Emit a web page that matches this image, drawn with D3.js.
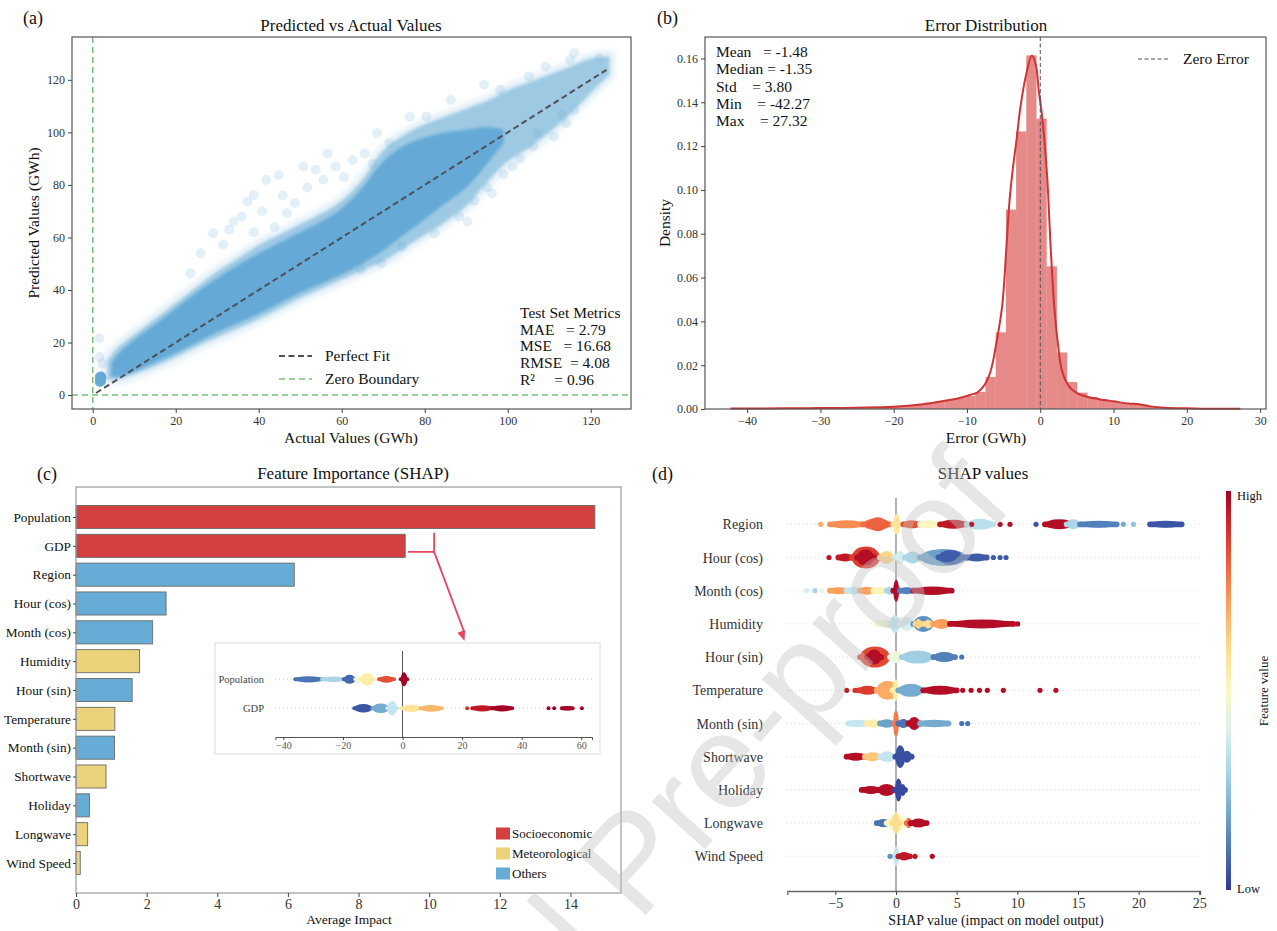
<!DOCTYPE html>
<html>
<head>
<meta charset="utf-8">
<script src="https://cdn.jsdelivr.net/npm/d3@7"></script>
<style>
  body { margin: 0; background: #fff; }
  svg { display: block; }
</style>
</head>
<body>
<svg id="fig" width="1277" height="931"></svg>
<script>
"use strict";

var SERIF = "Liberation Serif, Times New Roman, serif";

// ---- (a) predicted vs actual ----
// outline of the point cloud: [actual, low, high]
var cloudX  = [3.5, 6, 10, 15, 20, 25, 30, 35, 40, 45, 50, 55, 60, 65, 70, 75, 80, 85, 90, 95, 100, 105, 110, 115, 120, 124.5];
var cloudLo = [6, 6, 8, 11, 14.5, 18.5, 22, 25.5, 29, 33, 37, 40.5, 44, 47.5, 51, 56, 61, 66, 72, 81, 89, 94, 100, 107, 115, 122];
var cloudHi = [13, 18, 23, 29, 35, 41, 47, 52, 57, 61, 65, 69, 74, 82, 93, 99, 103, 106, 109, 112, 116, 119, 122, 125, 128, 129];
var denseX  = [4.5, 6, 10, 15, 20, 25, 30, 35, 40, 45, 50, 55, 60, 65, 70, 75, 80, 85, 90, 95, 99];
var denseLo = [7, 7, 9, 12.5, 16, 20, 24, 27.5, 31, 35, 39, 42.5, 46, 50, 55, 61, 67, 73, 79, 88, 96];
var denseHi = [12, 15.5, 21, 27, 33, 39, 44.5, 49.5, 54, 58, 62, 66, 71, 79, 89, 95, 98, 100, 101, 102, 101];
var lowCluster = [[1.7, 5.0], [2.0, 5.4], [1.8, 6.1], [2.1, 6.6], [1.7, 6.9], [2.0, 7.1]];
var outliers = [
  [1.6, 21.6], [1.6, 14.6], [2.2, 12], [23.5, 46.4], [26, 54], [29, 61.6], [32.9, 62.9],
  [31.4, 57.2], [35.9, 68], [37.3, 73.7], [38.8, 76.2], [41.8, 81.9], [44.8, 83.8], [46.8, 69.2],
  [48.7, 73], [50.7, 87], [53.7, 85.8], [56.6, 92], [58.6, 87], [62.6, 89.5], [68.5, 99.7],
  [71.5, 95.9], [76.4, 106], [80.4, 106], [86.3, 112.4], [94.3, 118.1], [98.2, 116.2],
  [105.1, 121.3], [109.1, 125.1], [115, 127.6], [116, 130.2], [122, 128.3], [88.3, 68],
  [90.3, 66.1], [96.2, 76.8], [101.2, 87], [106.1, 94.6], [107.1, 99.7], [111.1, 98.4],
  [114.1, 103.5], [113.1, 106.7], [116, 108.6], [78.4, 66.7], [82.4, 61.6], [74.5, 56.5],
  [69.5, 50.2], [64.6, 47.6], [20, 29], [15, 24], [12, 20],
  [33.9, 66], [40.8, 70], [43.8, 64], [38.8, 62], [45.8, 76], [51.7, 79], [55.6, 82],
  [60.5, 83], [65.5, 92], [67.5, 88], [92, 74], [95, 79], [99, 84], [103, 90]
];
var fitRange = [0.8, 123.8];
var metricLines = ["Test Set Metrics", "MAE   = 2.79", "MSE   = 16.68", "RMSE  = 4.08", "R\u00b2     = 0.96"];

// ---- (b) error distribution ----
var errMin = -42.27, errMax = 27.32;
var binDensity = [
  0.0002, 0.0001, 0.0002, 0.0002, 0.0002, 0.0003, 0.0003, 0.0003, 0.0004, 0.0004,
  0.0004, 0.0005, 0.0006, 0.0007, 0.0009, 0.0011, 0.0014, 0.0018, 0.0023, 0.0029,
  0.0035, 0.0042, 0.0050, 0.0060, 0.0078, 0.0146, 0.035, 0.091, 0.1267, 0.1614,
  0.1325, 0.0651, 0.0258, 0.0123, 0.0075, 0.0055, 0.0045, 0.0036, 0.0028, 0.0024,
  0.0020, 0.0012, 0.0007, 0.0005, 0.0003, 0.0002, 0.0002, 0.0001, 0.0001, 0.0001
];
var kdePoints = [
  [-42.3, 0.0002], [-35, 0.0003], [-30, 0.0004], [-25, 0.0006], [-20, 0.001], [-16, 0.0022],
  [-13, 0.0038], [-11, 0.005], [-9.5, 0.0065], [-8.6, 0.0075], [-7.6, 0.011], [-6.8, 0.017],
  [-6, 0.03], [-5.2, 0.047], [-4.6, 0.075], [-4.2, 0.095], [-3.8, 0.108], [-3.2, 0.124],
  [-2.7, 0.138], [-1.9, 0.153], [-1.15, 0.1614], [-0.6, 0.157], [-0.2, 0.145], [0.2, 0.135],
  [0.9, 0.108], [1.4, 0.075], [1.9, 0.047], [2.4, 0.03], [3, 0.017], [4, 0.01], [5, 0.0073],
  [6.5, 0.0055], [8, 0.0045], [10, 0.0035], [12, 0.0025], [13.5, 0.0022], [15, 0.0012],
  [17, 0.0006], [20, 0.0003], [24, 0.0001], [27.3, 0.0001]
];
var statLines = ["Mean   = -1.48", "Median = -1.35", "Std    = 3.80", "Min    = -42.27", "Max    = 27.32"];

// ---- (c) feature importance ----
var features = ["Population", "GDP", "Region", "Hour (cos)", "Month (cos)", "Humidity", "Hour (sin)",
  "Temperature", "Month (sin)", "Shortwave", "Holiday", "Longwave", "Wind Speed"];
var importance = [14.69, 9.32, 6.18, 2.55, 2.17, 1.80, 1.59, 1.10, 1.09, 0.85, 0.38, 0.33, 0.12];
var featureGroup = ["Socioeconomic", "Socioeconomic", "Others", "Others", "Others", "Meteorological",
  "Others", "Meteorological", "Others", "Meteorological", "Others", "Meteorological", "Meteorological"];
var groups = ["Socioeconomic", "Meteorological", "Others"];
var groupColors = ["#d43f3f", "#ebd37b", "#67acd6"];

// inset: SHAP of socioeconomic features. runs = [row, from, to, feature value, density]
var insetFeatures = ["Population", "GDP"];
var insetRuns = [
  [0, -36, -27, 0.1, 0.2], [0, -27, -19.2, 0.3, 0.15], [0, -19.7, -15.8, 0.08, 0.45],
  [0, -15.8, -14.1, 0.45, 0.3], [0, -14.1, -9.6, 0.55, 0.8], [0, -7.9, -2.9, 0.85, 0.25],
  [0, -0.6, 1.6, 1.0, 0.9],
  [1, -16.2, -10.1, 0.05, 0.4], [1, -10.1, -4.5, 0.2, 0.5], [1, -5.1, -1.8, 0.35, 0.95],
  [1, -0.2, 6, 0.58, 0.3], [1, 6, 13.2, 0.68, 0.25], [1, 23.4, 30.1, 0.95, 0.2],
  [1, 30.1, 36.8, 1.0, 0.2], [1, 53.5, 57.1, 1.0, 0.05]
];
var insetDots = [[1, 21.7, 0.9], [1, 49, 1.0], [1, 50.9, 1.0], [1, 60.2, 1.0]];
var insetTicks = [-40, -20, 0, 20, 40, 60];

// ---- (d) SHAP summary ----
var shapFeatures = ["Region", "Hour (cos)", "Month (cos)", "Humidity", "Hour (sin)", "Temperature",
  "Month (sin)", "Shortwave", "Holiday", "Longwave", "Wind Speed"];
var shapRuns = [
  [0, -5.44, -2.69, 0.75, 0.1], [0, -2.69, -0.49, 0.8, 0.3], [0, -2.2, -0.8, 0.82, 0.4],
  [0, -0.22, 0.33, 0.58, 0.75], [0, 0.6, 1.98, 0.85, 0.1], [0, 1.98, 3.35, 0.5, 0.1],
  [0, 3.63, 5.83, 0.95, 0.15], [0, 5.83, 8.03, 0.33, 0.25], [0, 12.28, 14.62, 0.97, 0.2],
  [0, 14.07, 15.17, 0.3, 0.2], [0, 15.17, 18.19, 0.12, 0.05], [0, 20.94, 23.55, 0.05, 0.05],
  [1, -4.75, -3.65, 0.95, 0.1], [1, -3.65, -1.32, 0.88, 0.8], [1, -3.2, -1.8, 0.97, 0.5],
  [1, -1.32, -0.22, 0.62, 0.35], [1, -0.08, 0.74, 0.38, 0.35], [1, 0.74, 1.98, 0.3, 0.3],
  [1, 1.98, 5.83, 0.18, 0.55], [1, 3.5, 5.5, 0.06, 0.45], [1, 5.83, 7.48, 0.06, 0.1],
  [2, -5.44, -4.07, 0.72, 0.05], [2, -4.07, -2.97, 0.35, 0.08], [2, -2.97, -1.87, 0.72, 0.1],
  [2, -1.87, -0.77, 0.52, 0.1], [2, -0.77, -0.22, 0.3, 0.1], [2, -0.22, 0.25, 0.98, 0.8],
  [2, 0.33, 1.43, 0.12, 0.05], [2, 1.43, 4.59, 0.97, 0.12],
  [3, -1.59, -0.22, 0.45, 0.1], [3, -0.5, 0.33, 0.35, 0.6], [3, 0.33, 1.43, 0.38, 0.4],
  [3, 1.43, 3.08, 0.15, 0.5], [3, 1.6, 2.1, 0.62, 0.2], [3, 2.4, 2.9, 0.6, 0.15],
  [3, 3.08, 4.45, 0.72, 0.2], [3, 4.45, 9.67, 0.97, 0.15],
  [4, -2.97, -0.49, 0.86, 0.75], [4, -2.4, -1.2, 0.97, 0.45], [4, -0.49, 0.47, 0.45, 0.3],
  [4, 0.47, 3.08, 0.28, 0.35], [4, 3.08, 4.87, 0.12, 0.2],
  [5, -3.11, -1.59, 0.88, 0.15], [5, -1.59, 0.19, 0.7, 0.65], [5, -0.3, 0.2, 0.55, 0.8],
  [5, 0.19, 2.25, 0.2, 0.35], [5, 2.25, 5.0, 0.97, 0.15],
  [6, -3.93, -2.41, 0.35, 0.08], [6, -2.41, -1.32, 0.55, 0.12], [6, -1.32, -0.22, 0.18, 0.12],
  [6, -0.14, 0.14, 0.78, 1.0], [6, 0.19, 1.02, 0.1, 0.15], [6, 1.02, 1.98, 0.97, 0.35],
  [6, 1.98, 4.32, 0.2, 0.08],
  [7, -4.07, -2.56, 0.97, 0.1], [7, -2.56, -1.32, 0.65, 0.15], [7, -1.32, -0.08, 0.35, 0.25],
  [7, -0.05, 0.75, 0.04, 0.85], [7, 0.5, 1.29, 0.04, 0.3],
  [8, -2.83, -1.3, 0.97, 0.1], [8, -1.5, -0.08, 0.97, 0.3], [8, -0.08, 0.5, 0.03, 0.85],
  [8, 0.4, 0.74, 0.03, 0.3],
  [9, -1.59, -0.49, 0.1, 0.1], [9, -0.77, 0.88, 0.5, 0.5], [9, -0.3, 0.3, 0.6, 0.8],
  [9, 0.88, 1.2, 0.8, 0.2], [9, 1.2, 2.53, 0.97, 0.15],
  [10, -0.14, 0.19, 0.35, 0.7], [10, 0.19, 1.15, 0.95, 0.12]
];
var shapDots = [
  [0, -6.21, 0.7], [0, 6.24, 0.95], [0, 8.58, 0.97], [0, 9.4, 0.97], [0, 11.54, 0.05],
  [0, 18.74, 0.2], [0, 19.57, 0.25],
  [1, -5.52, 0.95], [1, 8.03, 0.06], [1, 8.58, 0.06], [1, 9.07, 0.06],
  [2, -7.36, 0.38], [2, -6.68, 0.3], [2, -6.13, 0.45],
  [3, 10.03, 0.97], [4, 5.42, 0.1],
  [5, -4.07, 0.95], [5, -3.38, 0.9], [5, 5.5, 0.97], [5, 6.19, 0.97], [5, 6.88, 0.97],
  [5, 7.53, 0.97], [5, 8.85, 0.97], [5, 11.87, 0.97], [5, 13.18, 0.97],
  [6, 5.42, 0.1], [6, 5.91, 0.1],
  [10, -0.49, 0.15], [10, 1.57, 0.95], [10, 2.99, 0.97]
];

var svg = d3.select("#fig");
var defs = svg.append("defs");
defs.append("filter").attr("id", "soft")
  .append("feGaussianBlur").attr("stdDeviation", 1.8);
defs.append("filter").attr("id", "softer")
  .append("feGaussianBlur").attr("stdDeviation", 3);

function featureColor(v) {
  return d3.interpolateRdYlBu(1 - v);
}

// tick labels and tick lines in the matplotlib look
function styleAxis(g, size, keepDomain) {
  g.selectAll("text")
    .attr("font-family", SERIF)
    .attr("font-size", size)
    .attr("fill", "#333");
  g.selectAll(".tick line").attr("stroke", "#444");
  if (!keepDomain) {
    g.select(".domain").remove();
  }
}

function addText(x, y, str, size, anchor) {
  return svg.append("text")
    .attr("x", x)
    .attr("y", y)
    .attr("font-family", SERIF)
    .attr("font-size", size)
    .attr("text-anchor", anchor || "start")
    .attr("fill", "#111")
    .style("white-space", "pre")
    .text(str);
}

function addRotated(x, y, str, size) {
  svg.append("text")
    .attr("transform", "translate(" + x + "," + y + ") rotate(-90)")
    .attr("font-family", SERIF)
    .attr("font-size", size)
    .attr("text-anchor", "middle")
    .attr("fill", "#111")
    .text(str);
}

// beeswarm runs: a thin capsule plus an ellipse for the pile-up of points
function drawRuns(g, runs, xs, ys, hs, rowNames, thin) {
  var sel = g.selectAll(".run")
    .data(runs)
    .enter()
    .append("g")
    .attr("class", "run");
  sel.append("rect")
    .attr("x", function (d) { return xs(d[1]) - thin; })
    .attr("width", function (d) { return xs(d[2]) - xs(d[1]) + 2 * thin; })
    .attr("y", function (d) { return ys(rowNames[d[0]]) - thin; })
    .attr("height", 2 * thin)
    .attr("rx", thin)
    .attr("fill", function (d) { return featureColor(d[3]); });
  sel.append("ellipse")
    .attr("cx", function (d) { return (xs(d[1]) + xs(d[2])) / 2; })
    .attr("cy", function (d) { return ys(rowNames[d[0]]); })
    .attr("rx", function (d) { return Math.max((xs(d[2]) - xs(d[1])) / 2, thin); })
    .attr("ry", function (d) { return hs(d[4]); })
    .attr("fill", function (d) { return featureColor(d[3]); });
}

/* ================= (a) ================= */
var xA = d3.scaleLinear().domain([-5, 129.7]).range([72, 631]);
var yA = d3.scaleLinear().domain([-5.3, 136.3]).range([409, 37]);

defs.append("clipPath").attr("id", "clipA")
  .append("rect").attr("x", 72).attr("y", 37).attr("width", 559).attr("height", 372);

var gA = svg.append("g").attr("clip-path", "url(#clipA)");

var bandArea = d3.area()
  .x(function (d) { return xA(d[0]); })
  .y0(function (d) { return yA(d[1]); })
  .y1(function (d) { return yA(d[2]); })
  .curve(d3.curveCatmullRom);

var cloudRows = cloudX.map(function (x, i) { return [x, cloudLo[i], cloudHi[i]]; });
var denseRows = denseX.map(function (x, i) { return [x, denseLo[i], denseHi[i]]; });

// faint fringe of scattered points around the cloud
gA.append("path")
  .attr("d", bandArea(cloudRows))
  .attr("fill", "#6baed6")
  .attr("stroke", "#6baed6")
  .attr("stroke-width", 10)
  .attr("opacity", 0.22)
  .attr("filter", "url(#softer)");

gA.append("path")
  .attr("d", bandArea(cloudRows))
  .attr("fill", "#6baed6")
  .attr("opacity", 0.55)
  .attr("filter", "url(#soft)");

gA.append("path")
  .attr("d", bandArea(denseRows))
  .attr("fill", "#65aad6")
  .attr("opacity", 1)
  .attr("filter", "url(#soft)");

gA.selectAll(".outlier")
  .data(outliers)
  .enter()
  .append("circle")
  .attr("class", "outlier")
  .attr("cx", function (d) { return xA(d[0]); })
  .attr("cy", function (d) { return yA(d[1]); })
  .attr("r", 5)
  .attr("fill", "#6baed6")
  .attr("opacity", 0.18);

gA.selectAll(".low")
  .data(lowCluster)
  .enter()
  .append("circle")
  .attr("class", "low")
  .attr("cx", function (d) { return xA(d[0]); })
  .attr("cy", function (d) { return yA(d[1]); })
  .attr("r", 5)
  .attr("fill", "#65aad6")
  .attr("opacity", 0.9);

gA.append("line")
  .attr("x1", xA(fitRange[0])).attr("y1", yA(fitRange[0]))
  .attr("x2", xA(fitRange[1])).attr("y2", yA(fitRange[1]))
  .attr("stroke", "#4f4f5a")
  .attr("stroke-width", 2)
  .attr("stroke-dasharray", "6,3.5");

gA.append("line")
  .attr("x1", xA(0)).attr("x2", xA(0))
  .attr("y1", 37).attr("y2", 409)
  .attr("stroke", "#78c078").attr("stroke-width", 1.5).attr("stroke-dasharray", "6,4");
gA.append("line")
  .attr("x1", 72).attr("x2", 631)
  .attr("y1", yA(0)).attr("y2", yA(0))
  .attr("stroke", "#78c078").attr("stroke-width", 1.5).attr("stroke-dasharray", "6,4");

svg.append("rect")
  .attr("x", 72).attr("y", 37).attr("width", 559).attr("height", 372)
  .attr("fill", "none").attr("stroke", "#555").attr("stroke-width", 1.2);

styleAxis(svg.append("g").attr("transform", "translate(0,409)")
  .call(d3.axisBottom(xA).tickValues(d3.range(0, 121, 20)).tickSize(4)), 12);
styleAxis(svg.append("g").attr("transform", "translate(72,0)")
  .call(d3.axisLeft(yA).tickValues(d3.range(0, 121, 20)).tickSize(4)), 12);

addText(23, 24, "(a)", 18);
addText(351, 31, "Predicted vs Actual Values", 17, "middle");
addText(351, 443, "Actual Values (GWh)", 15.5, "middle");
addRotated(38.5, 223, "Predicted Values (GWh)", 15.5);

// legend (a)
var legendA = [["Perfect Fit", "#4f4f5a", 2, "6,3.5"], ["Zero Boundary", "#78c078", 1.5, "6,4"]];
legendA.forEach(function (d, i) {
  var y = 356 + i * 23;
  svg.append("line")
    .attr("x1", 279).attr("x2", 312).attr("y1", y).attr("y2", y)
    .attr("stroke", d[1]).attr("stroke-width", d[2]).attr("stroke-dasharray", d[3]);
  addText(325, y + 5, d[0], 15.5);
});

metricLines.forEach(function (line, i) {
  addText(520, 318 + i * 16.7, line, 15.5);
});

/* ================= (b) ================= */
var xB = d3.scaleLinear().domain([-45.75, 30.8]).range([705, 1266]);
var yB = d3.scaleLinear().domain([0, 0.1698]).range([409, 37]);
var binWidth = (errMax - errMin) / binDensity.length;

svg.append("g").selectAll("rect")
  .data(binDensity)
  .enter()
  .append("rect")
  .attr("x", function (d, i) { return xB(errMin + i * binWidth); })
  .attr("width", function (d, i) { return xB(errMin + (i + 1) * binWidth) - xB(errMin + i * binWidth); })
  .attr("y", function (d) { return yB(d); })
  .attr("height", function (d) { return yB(0) - yB(d); })
  .attr("fill", "#d33a3a")
  .attr("opacity", 0.6);

svg.append("path")
  .attr("d", d3.line()
    .x(function (d) { return xB(d[0]); })
    .y(function (d) { return yB(d[1]); })
    .curve(d3.curveCatmullRom)(kdePoints))
  .attr("fill", "none")
  .attr("stroke", "#cf3434")
  .attr("stroke-width", 2);

svg.append("line")
  .attr("x1", xB(0)).attr("x2", xB(0)).attr("y1", 37).attr("y2", 409)
  .attr("stroke", "#4f4f5a").attr("stroke-width", 1).attr("stroke-dasharray", "4,2.5");

svg.append("rect")
  .attr("x", 705).attr("y", 37).attr("width", 561).attr("height", 372)
  .attr("fill", "none").attr("stroke", "#555").attr("stroke-width", 1.2);

styleAxis(svg.append("g").attr("transform", "translate(0,409)")
  .call(d3.axisBottom(xB).tickValues(d3.range(-40, 31, 10)).tickSize(4)), 12);
styleAxis(svg.append("g").attr("transform", "translate(705,0)")
  .call(d3.axisLeft(yB).tickValues(d3.range(0, 0.161, 0.02)).tickFormat(d3.format(".2f")).tickSize(4)), 12);

addText(657, 24, "(b)", 18);
addText(986, 31, "Error Distribution", 17, "middle");
addText(986, 443, "Error (GWh)", 15.5, "middle");
addRotated(670, 223, "Density", 15.5);

statLines.forEach(function (line, i) {
  addText(716, 57 + i * 17.3, line, 15.5);
});

svg.append("line")
  .attr("x1", 1138).attr("x2", 1169).attr("y1", 59).attr("y2", 59)
  .attr("stroke", "#4f4f5a").attr("stroke-width", 1).attr("stroke-dasharray", "4,2.5");
addText(1183, 64, "Zero Error", 15.5);

/* ================= (c) ================= */
var xC = d3.scaleLinear().domain([0, 15.43]).range([76, 621]);
var yC = d3.scaleLinear().domain([-1.04, 13.04]).range([487, 893]);
var colorC = d3.scaleOrdinal().domain(groups).range(groupColors);
var barH = yC(0.4) - yC(-0.4);

svg.append("g").selectAll("rect")
  .data(importance)
  .enter()
  .append("rect")
  .attr("x", xC(0))
  .attr("y", function (d, i) { return yC(i) - barH / 2; })
  .attr("width", function (d) { return xC(d) - xC(0); })
  .attr("height", barH)
  .attr("fill", function (d, i) { return colorC(featureGroup[i]); })
  .attr("stroke", "#6a6a6a")
  .attr("stroke-width", 0.9);

svg.append("rect")
  .attr("x", 76).attr("y", 487).attr("width", 545).attr("height", 406)
  .attr("fill", "none").attr("stroke", "#9a9a9a").attr("stroke-width", 1.2);

styleAxis(svg.append("g").attr("transform", "translate(0,893)")
  .call(d3.axisBottom(xC).tickValues(d3.range(0, 15, 2)).tickSize(4).tickPadding(2)), 14);
var axC = svg.append("g").attr("transform", "translate(76,0)")
  .call(d3.axisLeft(yC).tickValues(d3.range(0, features.length))
    .tickFormat(function (i) { return features[i]; }).tickSize(3).tickPadding(2));
styleAxis(axC, 13.3, false);
axC.selectAll("text").attr("fill", "#111");

addText(37, 480, "(c)", 18);
addText(353, 479, "Feature Importance (SHAP)", 17, "middle");
addText(349, 924, "Average Impact", 13.5, "middle");

// callout from the GDP bar to the inset
var calloutColor = "#e5465e";
var gdpY = yC(1);
svg.append("path")
  .attr("d", "M" + xC(9.4) + "," + (gdpY + 6) + "H" + xC(10.14) + "M" + xC(10.14) + "," + (gdpY - 13) + "V" + (gdpY + 6))
  .attr("fill", "none").attr("stroke", calloutColor).attr("stroke-width", 1.8);
var arrowStart = [xC(10.14), gdpY + 6];
var arrowEnd = [xC(11.0), 641];
svg.append("line")
  .attr("x1", arrowStart[0]).attr("y1", arrowStart[1])
  .attr("x2", arrowEnd[0]).attr("y2", arrowEnd[1] - 8)
  .attr("stroke", calloutColor).attr("stroke-width", 1.8);
var ang = Math.atan2(arrowEnd[1] - arrowStart[1], arrowEnd[0] - arrowStart[0]);
function headPt(a, len) {
  return [arrowEnd[0] - len * Math.cos(ang + a), arrowEnd[1] - len * Math.sin(ang + a)];
}
svg.append("path")
  .attr("d", "M" + arrowEnd.join(",") + "L" + headPt(0.38, 11).join(",") + "L" + headPt(-0.38, 11).join(",") + "Z")
  .attr("fill", calloutColor);

// inset
var xI = d3.scaleLinear().domain([-42.7, 63.6]).range([275.3, 592]);
var yI = d3.scalePoint().domain(insetFeatures).range([679.3, 708.3]);
var hI = d3.scaleLinear().domain([0, 1]).range([2, 7.5]);

svg.append("rect")
  .attr("x", 215).attr("y", 643).attr("width", 385).attr("height", 111)
  .attr("fill", "#fff").attr("stroke", "#dcdcdc").attr("stroke-width", 1);

insetFeatures.forEach(function (f) {
  svg.append("line")
    .attr("x1", 275).attr("x2", 592).attr("y1", yI(f)).attr("y2", yI(f))
    .attr("stroke", "#ccc").attr("stroke-width", 0.8).attr("stroke-dasharray", "1,3");
  svg.append("text")
    .attr("x", 264).attr("y", yI(f) + 4)
    .attr("font-family", SERIF).attr("font-size", 10.5)
    .attr("text-anchor", "end").attr("fill", "#444")
    .text(f);
});

svg.append("line")
  .attr("x1", xI(0)).attr("x2", xI(0)).attr("y1", 651).attr("y2", 737)
  .attr("stroke", "#555").attr("stroke-width", 1);

var gInset = svg.append("g");
drawRuns(gInset, insetRuns, xI, yI, hI, insetFeatures, 2);

gInset.selectAll(".dot")
  .data(insetDots)
  .enter()
  .append("circle")
  .attr("class", "dot")
  .attr("cx", function (d) { return xI(d[1]); })
  .attr("cy", function (d) { return yI(insetFeatures[d[0]]); })
  .attr("r", 2)
  .attr("fill", function (d) { return featureColor(d[2]); });

var axI = svg.append("g").attr("transform", "translate(0,737)")
  .call(d3.axisBottom(xI).tickValues(insetTicks).tickSize(3).tickPadding(2));
styleAxis(axI, 10, true);
axI.select(".domain").attr("stroke", "#555");
axI.selectAll("text").attr("fill", "#555");

// legend (c)
groups.forEach(function (g, i) {
  var y = 833.5 + i * 20;
  svg.append("rect")
    .attr("x", 496).attr("y", y - 6).attr("width", 14).attr("height", 12)
    .attr("fill", colorC(g));
  addText(512, y + 4.5, g, 13);
});

/* ================= (d) ================= */
var xD = d3.scaleLinear().domain([-8.96, 25.06]).range([787.3, 1200]);
var yD = d3.scalePoint().domain(shapFeatures).range([524.3, 856.3]);
var hD = d3.scaleLinear().domain([0, 1]).range([3, 13]);

shapFeatures.forEach(function (f) {
  svg.append("line")
    .attr("x1", 787).attr("x2", 1200).attr("y1", yD(f)).attr("y2", yD(f))
    .attr("stroke", "#d4d4d4").attr("stroke-width", 0.8).attr("stroke-dasharray", "1,3");
  svg.append("text")
    .attr("x", 763).attr("y", yD(f) + 5)
    .attr("font-family", SERIF).attr("font-size", 14)
    .attr("text-anchor", "end").attr("fill", "#333")
    .text(f);
});

svg.append("line")
  .attr("x1", xD(0)).attr("x2", xD(0)).attr("y1", 498).attr("y2", 891)
  .attr("stroke", "#888").attr("stroke-width", 1.3);

drawRuns(svg.append("g"), shapRuns, xD, yD, hD, shapFeatures, 2.9);

svg.append("g").selectAll("circle")
  .data(shapDots)
  .enter()
  .append("circle")
  .attr("cx", function (d) { return xD(d[1]); })
  .attr("cy", function (d) { return yD(shapFeatures[d[0]]); })
  .attr("r", 2.6)
  .attr("fill", function (d) { return featureColor(d[2]); });

var axD = svg.append("g").attr("transform", "translate(0,891)")
  .call(d3.axisBottom(xD).tickValues(d3.range(-5, 26, 5)).tickSize(4));
styleAxis(axD, 14, true);
axD.select(".domain").attr("stroke", "#666").attr("stroke-width", 1.3);

// colour bar
var grad = defs.append("linearGradient").attr("id", "cbar")
  .attr("x1", 0).attr("y1", 1).attr("x2", 0).attr("y2", 0);
d3.range(0, 1.0001, 0.1).forEach(function (t) {
  grad.append("stop").attr("offset", t).attr("stop-color", featureColor(t));
});
svg.append("rect")
  .attr("x", 1226).attr("y", 491).attr("width", 5).attr("height", 399)
  .attr("fill", "url(#cbar)");
addText(1237, 500, "High", 12.5);
addText(1237, 893, "Low", 12.5);
addRotated(1268, 691, "Feature value", 13);

addText(652, 480, "(d)", 18);
addText(983, 479, "SHAP values", 17, "middle");
addText(996, 925, "SHAP value (impact on model output)", 14, "middle");

/* watermark */
svg.append("text")
  .attr("transform", "translate(1015,505) rotate(-48)")
  .attr("font-family", "Liberation Sans, Arial, sans-serif")
  .attr("font-size", 135)
  .attr("text-anchor", "end")
  .attr("fill", "#c4c4c4")
  .attr("opacity", 0.42)
  .text("Journal Pre-proof");
</script>
</body>
</html>
